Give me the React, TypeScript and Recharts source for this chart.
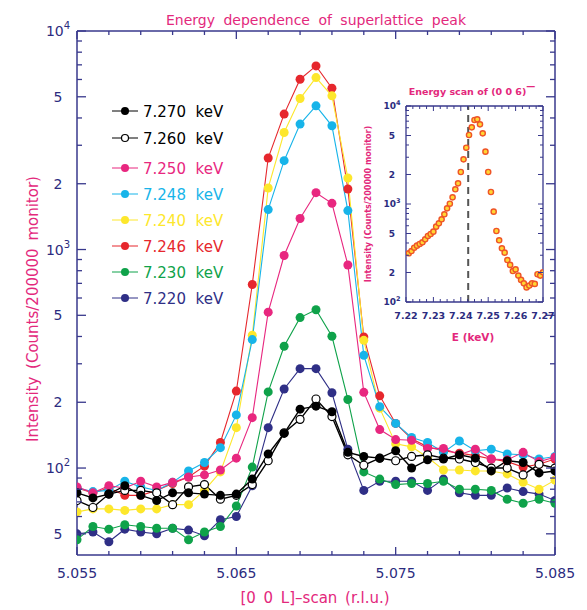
import React from 'react';
import {
  LineChart,
  Line,
  XAxis,
  YAxis,
  ReferenceLine,
  Legend,
  ComposedChart,
  Scatter,
} from 'recharts';

// [0 0 L] scan positions (r.l.u.)
const L_SCAN = [
  5.055, 5.056, 5.057, 5.058, 5.059, 5.06, 5.061, 5.062, 5.063, 5.064, 5.065,
  5.066, 5.067, 5.068, 5.069, 5.07, 5.071, 5.072, 5.073, 5.074, 5.075, 5.076,
  5.077, 5.078, 5.079, 5.08, 5.081, 5.082, 5.083, 5.084, 5.085,
];

// intensity (counts / 200000 monitor) per photon energy
const I_7270 = [77, 73, 76, 83, 75, 71, 77, 77, 76, 75, 76, 89, 116, 144, 186, 192, 181, 118, 113, 111, 120, 100, 109, 110, 115, 111, 97, 108, 106, 95, 97];
const I_7260 = [71, 66, 76, 79, 79, 77, 68, 82, 84, 72, 75, 84, 108, 145, 167, 207, 172, 115, 103, 111, 108, 113, 115, 111, 110, 106, 100, 100, 93, 104, 100];
const I_7250 = [82, 77, 83, 81, 87, 82, 86, 91, 93, 98, 111, 170, 517, 939, 1386, 1820, 1627, 850, 222, 150, 135, 134, 123, 123, 115, 122, 110, 109, 118, 107, 112];
const I_7248 = [81, 78, 79, 87, 82, 79, 86, 97, 106, 124, 175, 387, 1523, 2550, 3750, 4545, 3683, 1507, 328, 191, 160, 138, 131, 118, 133, 120, 122, 116, 115, 110, 113];
const I_7240 = [63, 65, 65, 64, 65, 65, 68, 68, 79, 96, 153, 405, 1913, 3432, 4908, 6120, 5050, 2125, 384, 188, 129, 125, 112, 98, 98, 97, 97, 94, 86, 80, 88];
const I_7246 = [81, 77, 81, 75, 75, 79, 85, 91, 102, 131, 225, 692, 2622, 4166, 6017, 6920, 5475, 1893, 398, 214, 160, 136, 125, 120, 117, 114, 110, 107, 101, 104, 110];
const I_7230 = [47, 54, 52.5, 55, 54, 53, 53, 47, 51, 54, 67, 101, 223, 361, 488, 530, 401, 206, 96, 89, 84, 85, 85, 87, 80, 80, 79, 72, 69, 72, 69];
const I_7220 = [50, 51, 46, 52.5, 51, 50, 53, 52, 49, 58, 60, 83, 153, 230, 285, 285, 221, 122, 79, 87, 87, 87, 79, 89, 77, 75, 75, 81, 78, 76, 71];

const MAIN_X_TICKS = [5.055, 5.057, 5.059, 5.061, 5.063, 5.065, 5.067, 5.069, 5.071, 5.073, 5.075, 5.077, 5.079, 5.081, 5.083, 5.085];
const MAIN_X_LABELS = ['5.055', '5.065', '5.075', '5.085'];
const MAIN_Y_TICKS = [50, 60, 70, 80, 90, 100, 200, 300, 400, 500, 600, 700, 800, 900, 1000, 2000, 3000, 4000, 5000, 6000, 7000, 8000, 9000, 10000];
const MAIN_Y_LABELS = [50, 100, 200, 500, 1000, 2000, 5000, 10000];

// inset: energy scan of (0 0 6)-
const E_SCAN = [
  7.221, 7.222, 7.223, 7.224, 7.225, 7.226, 7.227, 7.228, 7.229, 7.23,
  7.231, 7.232, 7.233, 7.234, 7.235, 7.236, 7.237, 7.238, 7.239, 7.24,
  7.241, 7.242, 7.243, 7.244, 7.245, 7.246, 7.247, 7.248, 7.249, 7.25,
  7.251, 7.252, 7.253, 7.254, 7.255, 7.256, 7.257, 7.258, 7.259, 7.26,
  7.261, 7.262, 7.263, 7.264, 7.265, 7.266, 7.267, 7.268, 7.269, 7.27,
];
const I_ESCAN = [
  314, 331, 358, 376, 391, 406, 436, 472, 494, 522,
  587, 635, 698, 785, 903, 1007, 1169, 1412, 1625, 2121,
  2855, 3756, 5058, 6057, 7197, 7310, 6500, 5260, 3420, 2121,
  1325, 835, 530, 426, 353, 319, 268, 239, 207, 215,
  186, 168, 155, 141, 147, 155, 153, 192, 186, 201,
];
const EDGE_MARK = 7.2427;
const INSET_X_TICKS = [7.22, 7.2225, 7.225, 7.2275, 7.23, 7.2325, 7.235, 7.2375, 7.24, 7.2425, 7.245, 7.2475, 7.25, 7.2525, 7.255, 7.2575, 7.26, 7.2625, 7.265, 7.2675, 7.27];
const INSET_X_LABELS = [7.22, 7.23, 7.24, 7.25, 7.26, 7.27];
const INSET_Y_TICKS = [100, 200, 300, 400, 500, 600, 700, 800, 900, 1000, 2000, 3000, 4000, 5000, 6000, 7000, 8000, 9000, 10000];
const INSET_Y_LABELS = [100, 200, 500, 1000, 2000, 5000, 10000];

const SERIES = [
  { key: 'e7220', label: '7.220', values: I_7220, color: '#2f2f86', open: false },
  { key: 'e7230', label: '7.230', values: I_7230, color: '#0fa24a', open: false },
  { key: 'e7246', label: '7.246', values: I_7246, color: '#e6272d', open: false },
  { key: 'e7240', label: '7.240', values: I_7240, color: '#fde72c', open: false },
  { key: 'e7248', label: '7.248', values: I_7248, color: '#17b4e9', open: false },
  { key: 'e7250', label: '7.250', values: I_7250, color: '#e8277f', open: false },
  { key: 'e7260', label: '7.260', values: I_7260, color: '#000000', open: true },
  { key: 'e7270', label: '7.270', values: I_7270, color: '#000000', open: false },
];
const LEGEND_ORDER = ['e7270', 'e7260', 'e7250', 'e7248', 'e7240', 'e7246', 'e7230', 'e7220'];

const rows = L_SCAN.map((L, i) => {
  const row: Record<string, number> = { L };
  SERIES.forEach((s) => (row[s.key] = s.values[i]));
  return row;
});
const insetRows = E_SCAN.map((E, i) => ({ E, I: I_ESCAN[i] }));

const FONT = "'DejaVu Sans', sans-serif";
const AXIS = '#38388c';
const NAVY = '#2c2c80';
const PINK = '#e3287c';

const MAIN_W = 478;
const MAIN_H = 524;
const INSET_W = 137;
const INSET_H = 196;

function logLabel(v: number, x: number, y: number, size: number, bold: boolean) {
  const e = Math.round(Math.log10(v));
  const isDecade = Math.abs(Math.pow(10, e) - v) < 1e-6;
  return (
    <text x={x} y={y + size * 0.36} textAnchor="middle" fill={NAVY} fontSize={size}
      fontFamily={FONT} fontWeight={bold ? 'bold' : 'normal'}>
      {isDecade ? (
        <>
          <tspan>10</tspan>
          <tspan dy={-size * 0.5} fontSize={size * 0.72}>{e}</tspan>
        </>
      ) : (
        String(Math.round(v / Math.pow(10, Math.floor(Math.log10(v)))))
      )}
    </text>
  );
}

function MainYTick(props: any) {
  const { x, y, payload } = props;
  const major = MAIN_Y_LABELS.includes(payload.value);
  const len = major ? 9 : 5;
  return (
    <g>
      <line x1={x} x2={x + len} y1={y} y2={y} stroke={AXIS} strokeWidth={1.3} />
      <line x1={x + MAIN_W} x2={x + MAIN_W - len} y1={y} y2={y} stroke={AXIS} strokeWidth={1.3} />
      {major && logLabel(payload.value, x - 19, y, 14, false)}
    </g>
  );
}

function MainXTick(props: any) {
  const { x, y, payload } = props;
  const txt = payload.value.toFixed(3);
  const major = MAIN_X_LABELS.includes(txt);
  const len = major ? 8 : 4;
  return (
    <g>
      <line x1={x} x2={x} y1={y} y2={y - len} stroke={AXIS} strokeWidth={1.3} />
      <line x1={x} x2={x} y1={y - MAIN_H} y2={y - MAIN_H + len} stroke={AXIS} strokeWidth={1.3} />
      {major && (
        <text x={x} y={y + 23} textAnchor="middle" fill={NAVY} fontSize={14} fontFamily={FONT}>
          {txt}
        </text>
      )}
    </g>
  );
}

function InsetYTick(props: any) {
  const { x, y, payload } = props;
  const major = INSET_Y_LABELS.includes(payload.value);
  const len = major ? 5 : 3;
  return (
    <g>
      <line x1={x} x2={x + len} y1={y} y2={y} stroke={AXIS} strokeWidth={1} />
      <line x1={x + INSET_W} x2={x + INSET_W - len} y1={y} y2={y} stroke={AXIS} strokeWidth={1} />
      {major && logLabel(payload.value, x - 14, y, 9, true)}
    </g>
  );
}

function InsetXTick(props: any) {
  const { x, y, payload } = props;
  const major = INSET_X_LABELS.some((v) => Math.abs(v - payload.value) < 1e-6);
  const len = major ? 5 : 3;
  return (
    <g>
      <line x1={x} x2={x} y1={y} y2={y - len} stroke={AXIS} strokeWidth={1} />
      <line x1={x} x2={x} y1={y - INSET_H} y2={y - INSET_H + len} stroke={AXIS} strokeWidth={1} />
      {major && (
        <text x={x} y={y + 17} textAnchor="middle" fill={NAVY} fontSize={9.5} fontWeight="bold" fontFamily={FONT}>
          {payload.value.toFixed(2)}
        </text>
      )}
    </g>
  );
}

function LegendBox() {
  const items = LEGEND_ORDER.map((k) => SERIES.find((s) => s.key === k)!);
  return (
    <svg width={140} height={215}>
      {items.map((s, i) => {
        const y = i < 2 ? 11 + 27 * i : 68 + 26 * (i - 2);
        return (
          <g key={s.key}>
            <line x1={0} x2={26} y1={y} y2={y} stroke={s.color} strokeWidth={1} />
            <circle cx={13} cy={y} r={s.open ? 3.5 : 4}
              fill={s.open ? '#fff' : s.color} stroke={s.color} strokeWidth={s.open ? 1.2 : 0} />
            <text x={31} y={y + 5.5} fill={s.color} fontSize={15} fontFamily={FONT}>
              {s.label}{'\u00a0\u00a0'}keV
            </text>
          </g>
        );
      })}
    </svg>
  );
}

function InsetChart() {
  return (
    <ComposedChart width={200} height={270} data={insetRows}
      margin={{ top: 28, right: 17, left: 0, bottom: 10 }}>
      <XAxis dataKey="E" type="number" domain={[7.22, 7.27]} ticks={INSET_X_TICKS} interval={0}
        allowDataOverflow tickSize={0} tickMargin={0} tickLine={false} tick={InsetXTick}
        axisLine={{ stroke: AXIS, strokeWidth: 1.3 }} height={36} />
      <YAxis dataKey="I" type="number" scale="log" domain={[100, 10000]} ticks={INSET_Y_TICKS}
        interval={0} allowDataOverflow tickSize={0} tickMargin={0} tickLine={false} tick={InsetYTick}
        axisLine={{ stroke: AXIS, strokeWidth: 1.3 }} width={46} />
      <ReferenceLine y={10000} stroke={AXIS} strokeWidth={1.3} />
      <ReferenceLine x={7.27} stroke={AXIS} strokeWidth={1.3} />
      <ReferenceLine x={EDGE_MARK} stroke="#555" strokeWidth={2} strokeDasharray="7 5" />
      <Scatter dataKey="I" isAnimationActive={false}
        shape={(p: any) => (
          <circle cx={p.cx} cy={p.cy} r={2.6} fill="#ffd633" stroke="#ef5427" strokeWidth={1.4} />
        )} />
      <text x={112} y={17} textAnchor="middle" fill={PINK} fontSize={9.5} fontWeight="bold" fontFamily={FONT}>
        Energy scan of (0 0 6)
        <tspan dy={-6} fontSize={9}>{'\u2014'}</tspan>
      </text>
      <text x={113} y={263} textAnchor="middle" fill={PINK} fontSize={10.5} fontWeight="bold" fontFamily={FONT}>
        E (keV)
      </text>
      <text transform="translate(11,126) rotate(-90)" textAnchor="middle" fill={PINK} fontSize={8}
        fontWeight="bold" fontFamily={FONT}>
        Intensity (Counts/200000 monitor)
      </text>
    </ComposedChart>
  );
}

export default function App() {
  return (
    <div style={{ position: 'relative', width: 579, height: 602, fontFamily: FONT }}>
      <LineChart width={579} height={602} data={rows} margin={{ top: 23, right: 32, left: 9, bottom: 10 }}>
        <XAxis dataKey="L" type="number" domain={[5.055, 5.085]} ticks={MAIN_X_TICKS} interval={0}
          allowDataOverflow tickSize={0} tickMargin={0} tickLine={false} tick={MainXTick}
          axisLine={{ stroke: AXIS, strokeWidth: 1.5 }} height={45} />
        <YAxis type="number" scale="log" domain={[40, 10000]} ticks={MAIN_Y_TICKS} interval={0}
          allowDataOverflow tickSize={0} tickMargin={0} tickLine={false} tick={MainYTick}
          axisLine={{ stroke: AXIS, strokeWidth: 1.5 }} width={60} />
        <ReferenceLine y={10000} stroke={AXIS} strokeWidth={1.5} />
        <ReferenceLine x={5.085} stroke={AXIS} strokeWidth={1.5} />
        {SERIES.map((s) => (
          <Line key={s.key} dataKey={s.key} stroke={s.color} strokeWidth={s.color === '#000000' ? 1.4 : 1.1}
            isAnimationActive={false} activeDot={false}
            dot={s.open
              ? { r: 4, fill: '#ffffff', stroke: s.color, strokeWidth: 1.2 }
              : { r: 4.5, fill: s.color, stroke: s.color, strokeWidth: 0 }} />
        ))}
        <Legend layout="vertical" align="center" verticalAlign="middle" content={() => <LegendBox />}
          wrapperStyle={{ left: 104, top: 92, width: 140, height: 215 }} />
        <text x={308} y={17} textAnchor="middle" fill={PINK} fontSize={14} fontFamily={FONT} wordSpacing={4}>
          Energy dependence of superlattice peak
        </text>
        <text transform="translate(25,301) rotate(-90)" textAnchor="middle" fill={PINK} fontSize={15}
          fontFamily={FONT} wordSpacing={3} dominantBaseline="central">
          Intensity (Counts/200000 monitor)
        </text>
        <text x={307} y={595} textAnchor="middle" fill={PINK} fontSize={15} fontFamily={FONT} wordSpacing={3}>
          [0 0 L]{'\u2013'}scan (r.l.u.)
        </text>
      </LineChart>
      <div style={{ position: 'absolute', left: 352, top: 70 }}>
        <InsetChart />
      </div>
    </div>
  );
}
